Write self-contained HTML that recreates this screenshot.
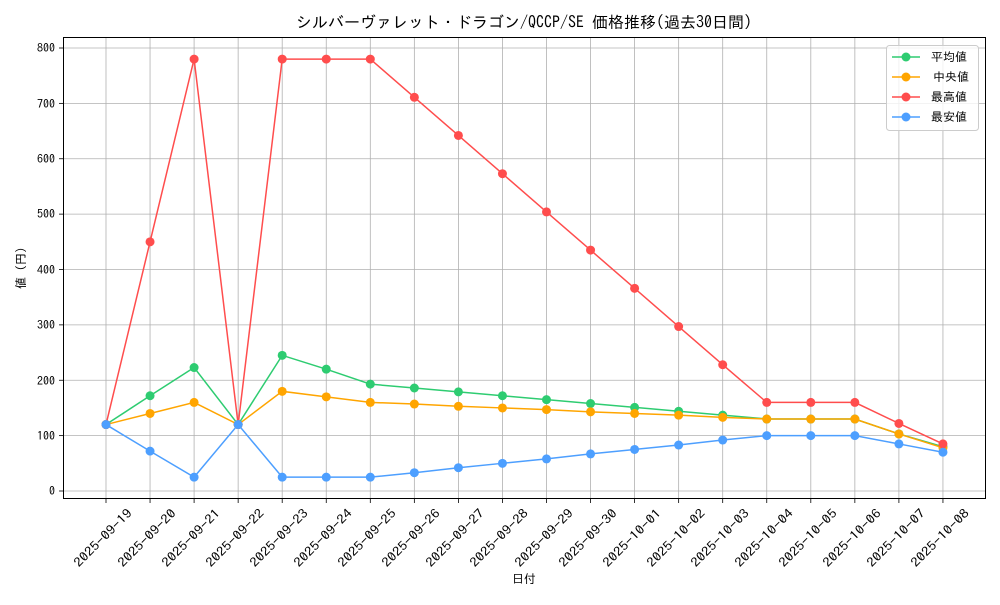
<!DOCTYPE html>
<html><head><meta charset="utf-8"><style>
body{margin:0;background:#fff}
svg text{font-family:"IPAGothic","Liberation Sans",sans-serif;fill:#000}
</style></head><body>
<svg id="s" width="1000" height="600" viewBox="0 0 1000 600" xmlns="http://www.w3.org/2000/svg">
<rect x="0" y="0" width="1000" height="600" fill="#fff"/>
<g id="grid" stroke="#b0b0b0" stroke-width="0.8"></g>
<g id="series"></g>
<rect x="63.5" y="37.5" width="922" height="461" fill="none" stroke="#000" stroke-width="1"/>
<text x="524" y="28" font-size="16" text-anchor="middle">シルバーヴァレット・ドラゴン/QCCP/SE 価格推移(過去30日間)</text>
<text x="524" y="583" font-size="12" text-anchor="middle">日付</text>
<text transform="translate(25,268) rotate(-90)" font-size="12" text-anchor="middle">値 (円)</text>
<g font-size="12" text-anchor="end">
<text x="55" y="495">0</text><text x="55" y="440">100</text><text x="55" y="385">200</text><text x="55" y="329">300</text><text x="55" y="274">400</text><text x="55" y="218">500</text><text x="55" y="163">600</text><text x="55" y="108">700</text><text x="55" y="52">800</text>
</g>
<g font-size="12.5" text-anchor="middle" id="xl">
<text transform="translate(106,541) rotate(-45)" textLength="76" lengthAdjust="spacingAndGlyphs">2025-09-19</text>
<text transform="translate(150,541) rotate(-45)" textLength="76" lengthAdjust="spacingAndGlyphs">2025-09-20</text>
<text transform="translate(194,541) rotate(-45)" textLength="76" lengthAdjust="spacingAndGlyphs">2025-09-21</text>
<text transform="translate(238,541) rotate(-45)" textLength="76" lengthAdjust="spacingAndGlyphs">2025-09-22</text>
<text transform="translate(282,541) rotate(-45)" textLength="76" lengthAdjust="spacingAndGlyphs">2025-09-23</text>
<text transform="translate(326,541) rotate(-45)" textLength="76" lengthAdjust="spacingAndGlyphs">2025-09-24</text>
<text transform="translate(370,541) rotate(-45)" textLength="76" lengthAdjust="spacingAndGlyphs">2025-09-25</text>
<text transform="translate(414,541) rotate(-45)" textLength="76" lengthAdjust="spacingAndGlyphs">2025-09-26</text>
<text transform="translate(458,541) rotate(-45)" textLength="76" lengthAdjust="spacingAndGlyphs">2025-09-27</text>
<text transform="translate(502,541) rotate(-45)" textLength="76" lengthAdjust="spacingAndGlyphs">2025-09-28</text>
<text transform="translate(547,541) rotate(-45)" textLength="76" lengthAdjust="spacingAndGlyphs">2025-09-29</text>
<text transform="translate(591,541) rotate(-45)" textLength="76" lengthAdjust="spacingAndGlyphs">2025-09-30</text>
<text transform="translate(635,541) rotate(-45)" textLength="76" lengthAdjust="spacingAndGlyphs">2025-10-01</text>
<text transform="translate(679,541) rotate(-45)" textLength="76" lengthAdjust="spacingAndGlyphs">2025-10-02</text>
<text transform="translate(723,541) rotate(-45)" textLength="76" lengthAdjust="spacingAndGlyphs">2025-10-03</text>
<text transform="translate(767,541) rotate(-45)" textLength="76" lengthAdjust="spacingAndGlyphs">2025-10-04</text>
<text transform="translate(811,541) rotate(-45)" textLength="76" lengthAdjust="spacingAndGlyphs">2025-10-05</text>
<text transform="translate(855,541) rotate(-45)" textLength="76" lengthAdjust="spacingAndGlyphs">2025-10-06</text>
<text transform="translate(899,541) rotate(-45)" textLength="76" lengthAdjust="spacingAndGlyphs">2025-10-07</text>
<text transform="translate(943,541) rotate(-45)" textLength="76" lengthAdjust="spacingAndGlyphs">2025-10-08</text>
</g>
<rect x="886.5" y="45.5" width="92" height="85" rx="3" fill="#fff" fill-opacity="0.8" stroke="#ccc"/>
<g stroke-width="1.5">
<line x1="892" y1="57" x2="920" y2="57" stroke="#2ecc71"/><circle cx="906" cy="57" r="4.5" fill="#2ecc71"/>
<line x1="892" y1="77" x2="920" y2="77" stroke="#ffa500"/><circle cx="906" cy="77" r="4.5" fill="#ffa500"/>
<line x1="892" y1="97" x2="920" y2="97" stroke="#ff4d4d"/><circle cx="906" cy="97" r="4.5" fill="#ff4d4d"/>
<line x1="892" y1="117" x2="920" y2="117" stroke="#4d9fff"/><circle cx="906" cy="117" r="4.5" fill="#4d9fff"/>
</g>
<g font-size="12">
<text x="931" y="61">平均値</text><text x="933" y="81">中央値</text><text x="931" y="101">最高値</text><text x="931" y="121">最安値</text>
</g>
</svg>
<script>
var ns="http://www.w3.org/2000/svg";
function X(i){return 106+i*44.05}
function Y(v){return 491-v*0.55375}
var g=document.getElementById("grid");
for(var i=0;i<20;i++){var l=document.createElementNS(ns,"line");l.setAttribute("x1",X(i));l.setAttribute("x2",X(i));l.setAttribute("y1",37.5);l.setAttribute("y2",498.5);g.appendChild(l);
var t=document.createElementNS(ns,"line");t.setAttribute("x1",X(i));t.setAttribute("x2",X(i));t.setAttribute("y1",498.5);t.setAttribute("y2",503);t.setAttribute("stroke","#000");g.appendChild(t);}
for(var v=0;v<=800;v+=100){var l=document.createElementNS(ns,"line");l.setAttribute("x1",63.5);l.setAttribute("x2",985.5);l.setAttribute("y1",Y(v));l.setAttribute("y2",Y(v));g.appendChild(l);
var t=document.createElementNS(ns,"line");t.setAttribute("x1",59);t.setAttribute("x2",63.5);t.setAttribute("y1",Y(v));t.setAttribute("y2",Y(v));t.setAttribute("stroke","#000");g.appendChild(t);}
var D=[
["#2ecc71",[120,172,223,120,245,220,193,186,179,172,165,158,151,144,137,130,130,130,103,80]],
["#ffa500",[120,140,160,120,180,170,160,157,153,150,147,143,140,137,133,130,130,130,103,78]],
["#ff4d4d",[120,450,780,120,780,780,780,711,642,573,504,435,366,297,228,160,160,160,122,85]],
["#4d9fff",[120,72,25,120,25,25,25,33,42,50,58,67,75,83,92,100,100,100,85,70]]];
var s=document.getElementById("series");
D.forEach(function(d){var p=document.createElementNS(ns,"polyline");
p.setAttribute("points",d[1].map(function(v,i){return X(i)+","+Y(v)}).join(" "));
p.setAttribute("fill","none");p.setAttribute("stroke",d[0]);p.setAttribute("stroke-width","1.5");s.appendChild(p);
d[1].forEach(function(v,i){var c=document.createElementNS(ns,"circle");c.setAttribute("cx",X(i));c.setAttribute("cy",Y(v));c.setAttribute("r",4.5);c.setAttribute("fill",d[0]);s.appendChild(c);});});
</script>
</body></html>
